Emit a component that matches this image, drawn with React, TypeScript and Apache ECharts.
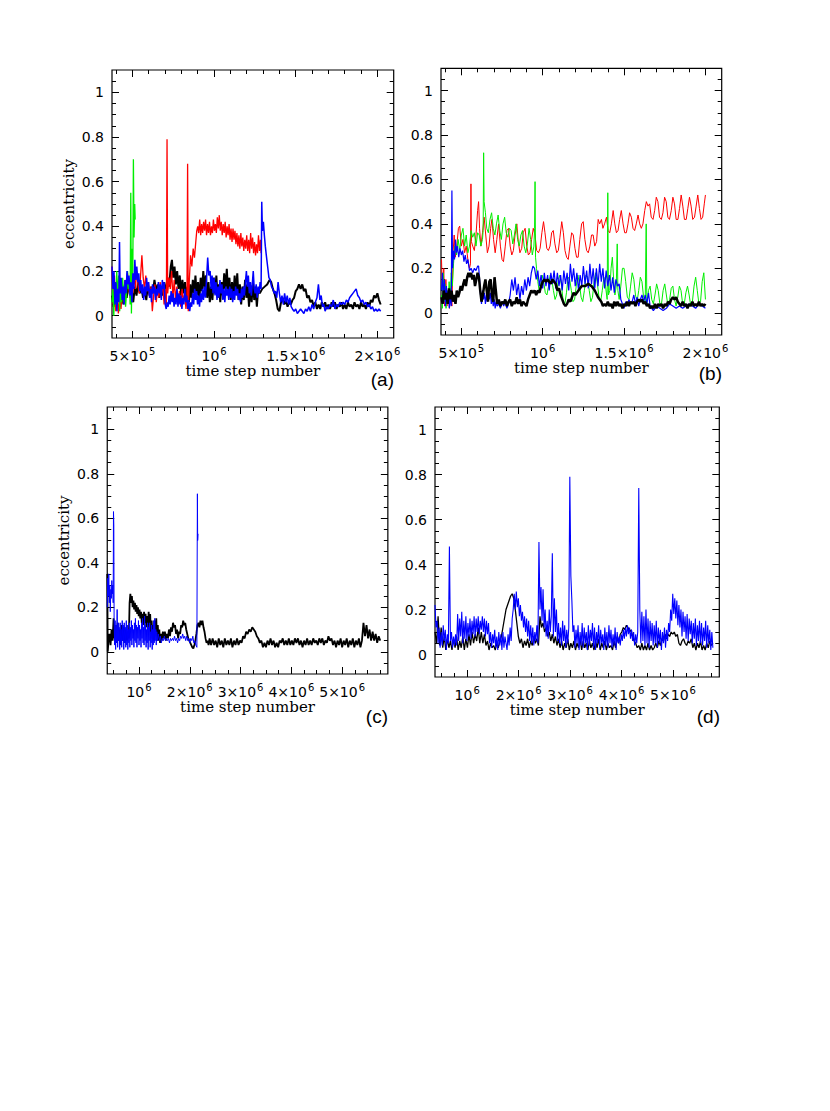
import React, { useEffect, useRef } from "react";
import * as echarts from "echarts";

// x values are in units of 1e5 time steps
const upperXMajor = [5, 10, 15, 20];
const upperXMinor = [4, 5, 6, 7, 8, 9, 10, 11, 12, 13, 14, 15, 16, 17, 18, 19, 20];
const upperXLabels: Record<string, string> = { "5": "{b|5×10}{s|5}", "10": "{b|10}{s|6}", "15": "{b|1.5×10}{s|6}", "20": "{b|2×10}{s|6}" };
const lowerXMajor = [10, 20, 30, 40, 50];
const lowerXMinor = [5, 7.5, 10, 12.5, 15, 17.5, 20, 22.5, 25, 27.5, 30, 32.5, 35, 37.5, 40, 42.5, 45, 47.5, 50, 52.5, 55, 57.5];
const lowerXLabels: Record<string, string> = { "10": "{b|10}{s|6}", "20": "{b|2×10}{s|6}", "30": "{b|3×10}{s|6}", "40": "{b|4×10}{s|6}", "50": "{b|5×10}{s|6}" };
const yMajor = [0, 0.2, 0.4, 0.6, 0.8, 1];
const yMinor = [-0.05, 0, 0.05, 0.1, 0.15, 0.2, 0.25, 0.3, 0.35, 0.4, 0.45, 0.5, 0.55, 0.6, 0.65, 0.7, 0.75, 0.8, 0.85, 0.9, 0.95, 1, 1.05];

// ---------- panel (a) ----------
const aBlack = [[3.75,0.09],[3.85,0.04],[3.95,0.12],[4.05,0.06],[4.15,0.14],[4.25,0.07],[4.35,0.11],[4.45,0.05],[4.55,0.13],[4.65,0.08],[4.75,0.15],[4.85,0.09],[4.95,0.12],[5.05,0.06],[5.15,0.13],[5.25,0.09],[5.35,0.15],[5.45,0.1],[5.55,0.13],[5.65,0.08],[5.75,0.12],[5.85,0.07],[5.95,0.14],[6.05,0.09],[6.15,0.13],[6.25,0.1],[6.35,0.16],[6.45,0.11],[6.55,0.14],[6.65,0.08],[6.75,0.13],[6.85,0.09],[6.95,0.15],[7.05,0.1],[7.15,0.17],[7.25,0.13],[7.35,0.22],[7.42,0.25],[7.5,0.17],[7.58,0.22],[7.66,0.14],[7.74,0.2],[7.82,0.12],[7.9,0.18],[7.98,0.09],[8.06,0.16],[8.14,0.1],[8.22,0.15],[8.3,0.07],[8.38,0.13],[8.46,0.06],[8.54,0.14],[8.62,0.08],[8.7,0.16],[8.78,0.1],[8.86,0.18],[8.94,0.09],[9.02,0.15],[9.1,0.07],[9.18,0.17],[9.26,0.11],[9.34,0.2],[9.42,0.12],[9.5,0.18],[9.58,0.08],[9.66,0.15],[9.74,0.06],[9.82,0.13],[9.9,0.07],[9.98,0.17],[10.06,0.1],[10.14,0.18],[10.22,0.08],[10.3,0.14],[10.38,0.06],[10.46,0.15],[10.54,0.09],[10.62,0.19],[10.7,0.12],[10.78,0.21],[10.86,0.1],[10.94,0.17],[11.02,0.07],[11.1,0.15],[11.18,0.08],[11.26,0.18],[11.34,0.1],[11.42,0.19],[11.5,0.07],[11.58,0.14],[11.66,0.05],[11.74,0.13],[11.82,0.07],[11.9,0.16],[11.98,0.08],[12.06,0.14],[12.14,0.04],[12.22,0.13],[12.3,0.06],[12.38,0.15],[12.46,0.07],[12.54,0.13],[12.62,0.04],[12.7,0.12],[12.8,0.1],[12.95,0.12],[13.1,0.13],[13.25,0.14],[13.4,0.16],[13.5,0.15],[13.6,0.12],[13.7,0.1],[13.8,0.07],[13.9,0.03],[14.0,0.02],[14.1,0.06],[14.2,0.08],[14.3,0.05],[14.4,0.07],[14.5,0.04],[14.6,0.06],[14.7,0.05],[14.8,0.07],[14.9,0.08],[15.0,0.11],[15.1,0.12],[15.2,0.14],[15.3,0.12],[15.4,0.14],[15.5,0.11],[15.6,0.12],[15.7,0.08],[15.8,0.09],[15.9,0.06],[16.0,0.07],[16.1,0.04],[16.2,0.06],[16.3,0.03],[16.4,0.05],[16.5,0.03],[16.6,0.06],[16.7,0.04],[16.8,0.06],[16.9,0.03],[17.0,0.05],[17.1,0.03],[17.2,0.06],[17.3,0.04],[17.4,0.06],[17.5,0.03],[17.6,0.05],[17.7,0.04],[17.8,0.06],[17.9,0.03],[18.0,0.05],[18.1,0.03],[18.2,0.06],[18.3,0.04],[18.4,0.05],[18.5,0.03],[18.6,0.06],[18.7,0.04],[18.8,0.05],[18.9,0.03],[19.0,0.06],[19.1,0.04],[19.2,0.05],[19.3,0.03],[19.4,0.06],[19.5,0.04],[19.6,0.07],[19.7,0.06],[19.8,0.09],[19.9,0.08],[20.0,0.1],[20.1,0.07],[20.2,0.05]];
const aRed = [[3.75,0.22],[3.82,0.05],[3.9,0.18],[3.98,0.02],[4.06,0.1],[4.14,0.01],[4.22,0.08],[4.3,0.03],[4.38,0.12],[4.46,0.06],[4.54,0.16],[4.62,0.1],[4.7,0.19],[4.78,0.12],[4.86,0.08],[4.94,0.15],[5.02,0.1],[5.1,0.18],[5.18,0.12],[5.26,0.2],[5.34,0.14],[5.42,0.1],[5.5,0.18],[5.58,0.27],[5.66,0.17],[5.74,0.12],[5.82,0.18],[5.9,0.11],[5.98,0.15],[6.06,0.08],[6.14,0.13],[6.22,0.02],[6.3,0.09],[6.38,0.14],[6.46,0.06],[6.54,0.12],[6.62,0.08],[6.7,0.15],[6.78,0.1],[6.86,0.14],[6.94,0.05],[7.02,0.12],[7.08,0.05],[7.12,0.79],[7.16,0.1],[7.24,0.17],[7.32,0.12],[7.4,0.2],[7.48,0.08],[7.56,0.16],[7.64,0.07],[7.72,0.13],[7.8,0.05],[7.88,0.11],[7.96,0.04],[8.04,0.12],[8.12,0.06],[8.2,0.1],[8.28,0.03],[8.34,0.08],[8.38,0.68],[8.42,0.02],[8.48,0.15],[8.56,0.27],[8.64,0.22],[8.72,0.3],[8.8,0.26],[8.88,0.33],[8.94,0.38],[9.0,0.4],[9.06,0.37],[9.12,0.43],[9.18,0.36],[9.24,0.41],[9.3,0.37],[9.36,0.42],[9.42,0.38],[9.48,0.43],[9.54,0.36],[9.6,0.41],[9.66,0.37],[9.72,0.42],[9.78,0.36],[9.84,0.4],[9.9,0.37],[9.96,0.43],[10.02,0.38],[10.08,0.41],[10.14,0.37],[10.2,0.44],[10.26,0.39],[10.32,0.45],[10.38,0.38],[10.44,0.42],[10.5,0.36],[10.56,0.41],[10.62,0.37],[10.68,0.42],[10.74,0.35],[10.8,0.4],[10.86,0.36],[10.92,0.41],[10.98,0.34],[11.04,0.39],[11.1,0.33],[11.16,0.39],[11.22,0.34],[11.28,0.38],[11.34,0.32],[11.4,0.37],[11.46,0.31],[11.52,0.36],[11.58,0.3],[11.64,0.37],[11.7,0.31],[11.76,0.35],[11.82,0.29],[11.88,0.34],[11.94,0.3],[12.0,0.36],[12.06,0.29],[12.12,0.34],[12.18,0.28],[12.24,0.37],[12.3,0.3],[12.36,0.35],[12.42,0.28],[12.48,0.33],[12.54,0.27],[12.6,0.32],[12.66,0.28],[12.72,0.36],[12.78,0.29],[12.84,0.34],[12.88,0.28]];
const aGreen = [[3.75,0.06],[3.8,0.12],[3.86,0.0],[3.92,0.15],[3.98,0.05],[4.04,0.2],[4.1,0.08],[4.16,0.18],[4.22,0.02],[4.28,0.12],[4.34,0.06],[4.4,0.17],[4.46,0.09],[4.52,0.14],[4.58,0.04],[4.64,0.1],[4.7,0.2],[4.76,0.12],[4.82,0.17],[4.86,0.05],[4.9,0.55],[4.94,0.01],[4.98,0.3],[5.02,0.12],[5.06,0.7],[5.1,0.35],[5.14,0.5],[5.17,0.43]];
const aBlue = [[3.75,0.22],[3.81,0.12],[3.87,0.2],[3.93,0.05],[3.99,0.15],[4.05,0.02],[4.11,0.12],[4.17,0.06],[4.21,0.33],[4.25,0.1],[4.31,0.17],[4.37,0.07],[4.43,0.13],[4.49,0.05],[4.55,0.16],[4.61,0.1],[4.67,0.2],[4.73,0.14],[4.79,0.18],[4.85,0.09],[4.91,0.15],[4.97,0.06],[5.03,0.19],[5.09,0.12],[5.15,0.25],[5.21,0.16],[5.27,0.22],[5.33,0.15],[5.39,0.19],[5.45,0.11],[5.51,0.16],[5.57,0.1],[5.63,0.14],[5.69,0.07],[5.75,0.13],[5.81,0.09],[5.87,0.17],[5.93,0.11],[5.99,0.15],[6.05,0.08],[6.11,0.12],[6.17,0.06],[6.23,0.14],[6.29,0.1],[6.35,0.13],[6.41,0.07],[6.47,0.12],[6.53,0.09],[6.59,0.15],[6.65,0.1],[6.71,0.14],[6.77,0.07],[6.83,0.16],[6.89,0.12],[6.95,0.15],[7.01,0.05],[7.07,0.03],[7.13,0.06],[7.19,0.04],[7.25,0.09],[7.31,0.05],[7.37,0.11],[7.43,0.06],[7.49,0.1],[7.55,0.04],[7.61,0.08],[7.67,0.05],[7.73,0.12],[7.79,0.04],[7.85,0.1],[7.91,0.05],[7.97,0.09],[8.03,0.03],[8.09,0.08],[8.15,0.05],[8.21,0.12],[8.27,0.06],[8.33,0.09],[8.39,0.03],[8.45,0.07],[8.51,0.02],[8.57,0.06],[8.63,0.04],[8.69,0.1],[8.75,0.05],[8.81,0.12],[8.87,0.07],[8.93,0.11],[8.99,0.05],[9.05,0.09],[9.11,0.04],[9.17,0.1],[9.23,0.06],[9.29,0.12],[9.35,0.07],[9.41,0.13],[9.47,0.08],[9.53,0.15],[9.61,0.26],[9.68,0.18],[9.76,0.2],[9.82,0.12],[9.88,0.18],[9.94,0.1],[10.0,0.17],[10.06,0.09],[10.12,0.15],[10.18,0.07],[10.24,0.13],[10.3,0.08],[10.36,0.16],[10.42,0.1],[10.48,0.14],[10.54,0.07],[10.6,0.12],[10.66,0.06],[10.72,0.13],[10.78,0.09],[10.84,0.12],[10.9,0.07],[10.96,0.13],[11.02,0.08],[11.08,0.12],[11.14,0.06],[11.2,0.11],[11.26,0.07],[11.32,0.13],[11.38,0.09],[11.44,0.12],[11.5,0.07],[11.56,0.1],[11.62,0.06],[11.68,0.12],[11.74,0.08],[11.8,0.13],[11.86,0.09],[11.92,0.15],[11.98,0.2],[12.04,0.13],[12.1,0.18],[12.16,0.1],[12.22,0.15],[12.28,0.09],[12.34,0.14],[12.4,0.2],[12.46,0.12],[12.52,0.1],[12.58,0.14],[12.64,0.08],[12.7,0.13],[12.76,0.1],[12.82,0.15],[12.88,0.12],[12.92,0.51],[12.96,0.38],[13.02,0.42],[13.08,0.36],[13.14,0.31],[13.2,0.27],[13.28,0.22],[13.36,0.17],[13.44,0.16],[13.52,0.13],[13.6,0.12],[13.68,0.1],[13.76,0.11],[13.84,0.08],[13.92,0.15],[14.0,0.1],[14.08,0.06],[14.16,0.09],[14.24,0.05],[14.32,0.1],[14.4,0.06],[14.48,0.09],[14.56,0.05],[14.64,0.08],[14.72,0.04],[14.8,0.03],[14.9,0.02],[15.0,0.03],[15.1,0.01],[15.2,0.02],[15.3,0.03],[15.4,0.02],[15.5,0.01],[15.6,0.03],[15.7,0.02],[15.8,0.04],[15.9,0.02],[16.0,0.05],[16.1,0.03],[16.2,0.06],[16.3,0.08],[16.39,0.14],[16.48,0.07],[16.56,0.09],[16.64,0.04],[16.72,0.05],[16.8,0.02],[16.9,0.04],[17.0,0.03],[17.1,0.05],[17.2,0.04],[17.3,0.07],[17.4,0.03],[17.5,0.05],[17.6,0.04],[17.7,0.06],[17.8,0.05],[17.9,0.06],[18.0,0.05],[18.1,0.07],[18.2,0.06],[18.3,0.08],[18.4,0.09],[18.5,0.1],[18.6,0.11],[18.7,0.12],[18.8,0.09],[18.9,0.08],[19.0,0.06],[19.1,0.07],[19.2,0.05],[19.3,0.06],[19.4,0.04],[19.5,0.05],[19.6,0.03],[19.7,0.04],[19.8,0.02],[19.9,0.03],[20.0,0.02],[20.1,0.03],[20.2,0.02]];

// ---------- panel (b) ----------
const bRed = [[3.78,0.24],[3.85,0.08],[3.92,0.2],[3.98,0.03],[4.05,0.15],[4.12,0.03],[4.2,0.1],[4.27,0.02],[4.35,0.08],[4.42,0.03],[4.5,0.28],[4.56,0.35],[4.63,0.25],[4.72,0.3],[4.82,0.38],[4.9,0.39],[5.0,0.3],[5.1,0.33],[5.2,0.27],[5.3,0.3],[5.4,0.24],[5.5,0.2],[5.56,0.22],[5.59,0.58],[5.62,0.32],[5.7,0.3],[5.8,0.28],[5.9,0.35],[6.0,0.46],[6.06,0.5],[6.12,0.38],[6.2,0.3],[6.3,0.36],[6.4,0.43],[6.5,0.35],[6.6,0.27],[6.7,0.3],[6.8,0.38],[6.88,0.42],[6.98,0.33],[7.08,0.27],[7.18,0.33],[7.29,0.4],[7.4,0.3],[7.5,0.24],[7.59,0.23],[7.7,0.3],[7.8,0.37],[7.9,0.38],[8.0,0.3],[8.1,0.26],[8.2,0.28],[8.3,0.35],[8.41,0.4],[8.5,0.32],[8.6,0.27],[8.71,0.29],[8.8,0.36],[8.92,0.38],[9.02,0.3],[9.12,0.26],[9.22,0.27],[9.32,0.33],[9.42,0.38],[9.53,0.35],[9.63,0.28],[9.74,0.27],[9.84,0.29],[9.95,0.36],[10.05,0.41],[10.14,0.36],[10.25,0.29],[10.35,0.28],[10.45,0.3],[10.55,0.36],[10.65,0.37],[10.75,0.31],[10.86,0.27],[10.96,0.28],[11.06,0.34],[11.17,0.41],[11.27,0.36],[11.37,0.28],[11.47,0.25],[11.57,0.24],[11.67,0.3],[11.78,0.36],[11.88,0.35],[11.98,0.29],[12.08,0.25],[12.18,0.25],[12.28,0.33],[12.39,0.4],[12.49,0.41],[12.59,0.33],[12.7,0.28],[12.8,0.27],[12.9,0.3],[13.0,0.35],[13.1,0.35],[13.2,0.3],[13.31,0.32],[13.41,0.42],[13.5,0.4],[13.61,0.42],[13.7,0.38],[13.8,0.4],[13.92,0.43],[14.02,0.37],[14.12,0.36],[14.22,0.4],[14.33,0.46],[14.43,0.4],[14.53,0.36],[14.63,0.37],[14.73,0.42],[14.83,0.46],[14.94,0.4],[15.04,0.36],[15.14,0.36],[15.24,0.4],[15.34,0.45],[15.45,0.43],[15.55,0.38],[15.65,0.37],[15.75,0.4],[15.86,0.44],[15.96,0.4],[16.06,0.38],[16.16,0.4],[16.27,0.46],[16.37,0.5],[16.47,0.48],[16.57,0.49],[16.67,0.43],[16.78,0.42],[16.88,0.46],[16.98,0.52],[17.08,0.5],[17.18,0.43],[17.29,0.42],[17.39,0.45],[17.49,0.52],[17.59,0.5],[17.69,0.43],[17.79,0.42],[17.9,0.46],[18.0,0.52],[18.1,0.49],[18.2,0.42],[18.31,0.42],[18.41,0.47],[18.51,0.53],[18.61,0.48],[18.71,0.42],[18.82,0.42],[18.92,0.47],[19.02,0.52],[19.12,0.48],[19.22,0.42],[19.33,0.43],[19.43,0.48],[19.53,0.53],[19.63,0.47],[19.73,0.42],[19.83,0.43],[19.93,0.49],[20.0,0.53]];
const bGreen = [[3.78,0.08],[3.83,0.02],[3.88,0.18],[3.94,0.05],[4.0,0.13],[4.06,0.02],[4.12,0.1],[4.18,0.04],[4.25,0.14],[4.32,0.06],[4.38,0.18],[4.45,0.12],[4.52,0.22],[4.6,0.3],[4.7,0.26],[4.8,0.33],[4.9,0.28],[5.0,0.35],[5.1,0.38],[5.2,0.3],[5.3,0.35],[5.4,0.27],[5.5,0.3],[5.6,0.37],[5.7,0.34],[5.8,0.36],[5.9,0.3],[6.0,0.36],[6.1,0.35],[6.2,0.3],[6.3,0.33],[6.34,0.37],[6.37,0.72],[6.4,0.5],[6.48,0.45],[6.56,0.38],[6.66,0.36],[6.76,0.42],[6.86,0.45],[6.96,0.38],[7.06,0.35],[7.16,0.4],[7.26,0.44],[7.36,0.37],[7.46,0.33],[7.56,0.4],[7.66,0.43],[7.76,0.36],[7.86,0.34],[7.96,0.38],[8.06,0.37],[8.16,0.31],[8.26,0.35],[8.36,0.4],[8.46,0.33],[8.56,0.3],[8.66,0.35],[8.76,0.37],[8.86,0.3],[8.96,0.27],[9.06,0.31],[9.16,0.38],[9.26,0.33],[9.36,0.26],[9.46,0.3],[9.5,0.38],[9.53,0.59],[9.56,0.25],[9.62,0.2],[9.7,0.14],[9.78,0.1],[9.86,0.12],[9.96,0.17],[10.06,0.14],[10.16,0.09],[10.26,0.08],[10.36,0.12],[10.46,0.17],[10.56,0.15],[10.66,0.1],[10.76,0.06],[10.86,0.08],[10.96,0.15],[11.06,0.17],[11.16,0.12],[11.26,0.05],[11.36,0.04],[11.46,0.09],[11.56,0.16],[11.66,0.15],[11.76,0.1],[11.86,0.05],[11.96,0.06],[12.06,0.12],[12.16,0.17],[12.26,0.13],[12.36,0.07],[12.46,0.05],[12.56,0.1],[12.66,0.17],[12.76,0.16],[12.86,0.1],[12.96,0.05],[13.06,0.07],[13.16,0.14],[13.26,0.18],[13.36,0.13],[13.46,0.07],[13.56,0.05],[13.66,0.1],[13.76,0.16],[13.86,0.12],[13.96,0.06],[14.0,0.54],[14.04,0.08],[14.12,0.1],[14.2,0.2],[14.28,0.25],[14.36,0.15],[14.44,0.08],[14.52,0.12],[14.58,0.31],[14.62,0.1],[14.7,0.06],[14.8,0.12],[14.9,0.2],[15.0,0.2],[15.1,0.14],[15.2,0.07],[15.3,0.06],[15.4,0.12],[15.5,0.18],[15.6,0.15],[15.7,0.08],[15.8,0.05],[15.9,0.1],[16.0,0.16],[16.1,0.14],[16.2,0.07],[16.3,0.05],[16.36,0.4],[16.4,0.04],[16.5,0.1],[16.6,0.12],[16.7,0.06],[16.8,0.04],[16.9,0.08],[17.0,0.13],[17.1,0.1],[17.2,0.04],[17.3,0.04],[17.4,0.1],[17.5,0.13],[17.6,0.08],[17.7,0.03],[17.8,0.06],[17.9,0.11],[18.0,0.12],[18.1,0.06],[18.2,0.03],[18.3,0.07],[18.4,0.12],[18.5,0.1],[18.6,0.04],[18.7,0.04],[18.8,0.09],[18.9,0.12],[19.0,0.08],[19.1,0.03],[19.2,0.05],[19.3,0.12],[19.4,0.16],[19.5,0.1],[19.6,0.04],[19.7,0.05],[19.8,0.14],[19.9,0.18],[20.0,0.06]];
const bBlue = [[3.78,0.1],[3.84,0.18],[3.9,0.06],[3.96,0.15],[4.02,0.03],[4.08,0.12],[4.14,0.05],[4.2,0.1],[4.26,0.02],[4.32,0.08],[4.38,0.03],[4.42,0.55],[4.46,0.2],[4.52,0.28],[4.58,0.24],[4.64,0.33],[4.7,0.27],[4.76,0.3],[4.84,0.25],[4.92,0.29],[5.0,0.26],[5.08,0.28],[5.16,0.23],[5.24,0.26],[5.32,0.22],[5.4,0.24],[5.5,0.19],[5.6,0.2],[5.7,0.18],[5.8,0.2],[5.9,0.19],[6.0,0.21],[6.06,0.21],[6.12,0.15],[6.18,0.08],[6.24,0.04],[6.3,0.1],[6.36,0.06],[6.42,0.09],[6.48,0.04],[6.54,0.08],[6.6,0.05],[6.66,0.1],[6.72,0.06],[6.78,0.09],[6.84,0.04],[6.9,0.07],[6.96,0.03],[7.02,0.06],[7.08,0.02],[7.14,0.05],[7.2,0.03],[7.3,0.04],[7.4,0.02],[7.5,0.05],[7.6,0.03],[7.7,0.05],[7.8,0.02],[7.9,0.04],[8.0,0.08],[8.1,0.15],[8.2,0.1],[8.3,0.16],[8.4,0.08],[8.5,0.13],[8.6,0.06],[8.7,0.12],[8.8,0.08],[8.9,0.15],[9.0,0.1],[9.1,0.16],[9.2,0.12],[9.3,0.18],[9.4,0.21],[9.5,0.2],[9.6,0.15],[9.7,0.19],[9.8,0.12],[9.9,0.17],[10.0,0.11],[10.1,0.18],[10.2,0.12],[10.3,0.17],[10.4,0.1],[10.5,0.18],[10.6,0.13],[10.7,0.19],[10.8,0.11],[10.9,0.18],[11.0,0.12],[11.1,0.17],[11.2,0.1],[11.3,0.19],[11.4,0.13],[11.5,0.18],[11.6,0.1],[11.7,0.22],[11.8,0.14],[11.9,0.2],[12.0,0.12],[12.1,0.18],[12.2,0.1],[12.3,0.17],[12.4,0.12],[12.5,0.21],[12.6,0.13],[12.7,0.19],[12.8,0.11],[12.9,0.22],[13.0,0.13],[13.1,0.2],[13.2,0.11],[13.3,0.2],[13.4,0.12],[13.5,0.22],[13.6,0.14],[13.7,0.2],[13.8,0.11],[13.9,0.19],[14.0,0.12],[14.1,0.17],[14.2,0.1],[14.3,0.16],[14.4,0.09],[14.5,0.15],[14.6,0.12],[14.7,0.13],[14.8,0.06],[14.9,0.04],[15.0,0.02],[15.1,0.05],[15.2,0.03],[15.3,0.06],[15.4,0.04],[15.5,0.05],[15.6,0.08],[15.7,0.04],[15.8,0.07],[15.9,0.03],[16.0,0.06],[16.1,0.08],[16.2,0.05],[16.3,0.08],[16.4,0.04],[16.5,0.09],[16.6,0.03],[16.7,0.02],[16.8,0.01],[16.9,0.02],[17.0,0.03],[17.2,0.02],[17.4,0.01],[17.6,0.02],[17.8,0.04],[18.0,0.03],[18.2,0.02],[18.4,0.03],[18.6,0.02],[18.8,0.03],[19.0,0.04],[19.2,0.03],[19.4,0.02],[19.6,0.04],[19.8,0.03],[20.0,0.02]];
const bBlack = [[3.78,0.07],[3.85,0.04],[3.92,0.1],[4.0,0.06],[4.08,0.09],[4.16,0.04],[4.24,0.11],[4.32,0.06],[4.4,0.1],[4.48,0.05],[4.56,0.08],[4.64,0.04],[4.72,0.1],[4.8,0.07],[4.88,0.09],[4.96,0.12],[5.04,0.1],[5.12,0.13],[5.2,0.15],[5.28,0.12],[5.36,0.16],[5.44,0.18],[5.52,0.16],[5.6,0.18],[5.68,0.15],[5.76,0.17],[5.84,0.12],[5.92,0.15],[6.0,0.18],[6.08,0.16],[6.16,0.1],[6.24,0.05],[6.32,0.08],[6.4,0.12],[6.48,0.15],[6.56,0.1],[6.64,0.05],[6.72,0.14],[6.8,0.15],[6.88,0.08],[6.96,0.05],[7.04,0.16],[7.12,0.1],[7.2,0.04],[7.3,0.06],[7.4,0.03],[7.5,0.05],[7.6,0.04],[7.7,0.06],[7.8,0.03],[7.9,0.05],[8.0,0.06],[8.1,0.03],[8.2,0.05],[8.3,0.04],[8.4,0.07],[8.5,0.04],[8.6,0.06],[8.7,0.03],[8.8,0.05],[8.9,0.04],[9.0,0.03],[9.1,0.06],[9.2,0.08],[9.3,0.1],[9.4,0.09],[9.5,0.1],[9.6,0.08],[9.7,0.1],[9.8,0.09],[9.9,0.12],[10.0,0.14],[10.1,0.15],[10.2,0.14],[10.3,0.15],[10.4,0.14],[10.5,0.13],[10.6,0.15],[10.7,0.14],[10.8,0.13],[10.9,0.1],[11.0,0.11],[11.1,0.08],[11.2,0.06],[11.3,0.04],[11.4,0.03],[11.5,0.04],[11.6,0.06],[11.7,0.05],[11.8,0.07],[11.9,0.09],[12.0,0.08],[12.2,0.1],[12.4,0.12],[12.6,0.12],[12.8,0.13],[13.0,0.12],[13.2,0.1],[13.4,0.07],[13.6,0.05],[13.7,0.03],[13.8,0.04],[13.9,0.03],[14.0,0.05],[14.1,0.03],[14.2,0.04],[14.3,0.02],[14.4,0.05],[14.5,0.03],[14.6,0.05],[14.7,0.03],[14.8,0.04],[14.9,0.02],[15.0,0.04],[15.1,0.03],[15.2,0.05],[15.3,0.03],[15.4,0.05],[15.5,0.04],[15.6,0.05],[15.7,0.03],[15.8,0.05],[15.9,0.06],[16.0,0.05],[16.1,0.06],[16.2,0.04],[16.3,0.05],[16.4,0.03],[16.5,0.04],[16.6,0.02],[16.7,0.03],[16.8,0.02],[16.9,0.04],[17.0,0.02],[17.1,0.04],[17.2,0.03],[17.3,0.04],[17.4,0.02],[17.5,0.04],[17.6,0.03],[17.7,0.05],[17.8,0.04],[17.9,0.06],[18.0,0.07],[18.1,0.06],[18.2,0.07],[18.3,0.05],[18.4,0.04],[18.5,0.03],[18.6,0.05],[18.7,0.03],[18.8,0.04],[18.9,0.02],[19.0,0.04],[19.1,0.03],[19.2,0.05],[19.3,0.03],[19.4,0.04],[19.5,0.03],[19.6,0.05],[19.7,0.03],[19.8,0.04],[19.9,0.03],[20.0,0.04]];

// ---------- panel (c) ----------
const cBlackHead = [[3.75,0.35],[3.8,0.35],[3.85,0.0],[4.0,0.05],[4.2,0.08],[4.4,0.03],[4.6,0.1],[4.8,0.05],[5.0,0.15],[5.2,0.06],[5.4,0.12],[5.6,0.04],[5.8,0.13],[6.0,0.05],[6.2,0.1],[6.4,0.03],[6.6,0.12],[6.8,0.05],[7.0,0.11],[7.2,0.04],[7.4,0.1],[7.6,0.05],[7.8,0.09],[8.0,0.06],[8.15,0.22],[8.3,0.26],[8.45,0.22],[8.6,0.25],[8.75,0.2],[8.9,0.23],[9.05,0.19],[9.2,0.22],[9.35,0.18],[9.5,0.21],[9.65,0.17],[9.8,0.2],[9.95,0.16],[10.1,0.19],[10.25,0.15],[10.4,0.18],[10.55,0.13],[10.7,0.17],[10.85,0.12],[11.0,0.18],[11.15,0.13],[11.3,0.17],[11.45,0.11],[11.6,0.16],[11.75,0.1],[11.9,0.18],[12.05,0.12],[12.2,0.17],[12.35,0.08],[12.5,0.14],[12.65,0.06],[12.8,0.12],[12.95,0.05],[13.1,0.14],[13.25,0.07],[13.4,0.15],[13.55,0.05],[13.7,0.12],[13.85,0.05],[14.0,0.1],[14.15,0.04],[14.3,0.08],[14.5,0.05],[14.7,0.09],[14.9,0.06],[15.1,0.09],[15.3,0.05],[15.5,0.08],[15.7,0.06],[15.9,0.1],[16.1,0.07],[16.3,0.11],[16.5,0.09],[16.7,0.13],[16.9,0.11],[17.1,0.12],[17.3,0.08],[17.5,0.1],[17.7,0.06],[17.9,0.09],[18.1,0.08],[18.3,0.12],[18.5,0.11],[18.7,0.14],[18.9,0.12],[19.1,0.13],[19.3,0.1],[19.5,0.08],[19.7,0.06],[19.9,0.05],[20.1,0.04],[20.3,0.03],[20.5,0.02],[20.7,0.015],[20.9,0.03],[21.1,0.05],[21.3,0.08],[21.5,0.12],[21.7,0.13],[21.9,0.11],[22.1,0.14],[22.3,0.12],[22.5,0.14],[22.7,0.11],[22.9,0.09],[23.1,0.06],[23.3,0.04],[23.5,0.05],[23.7,0.03],[23.9,0.06]];
const cBlackTailStart = 24.2;
const cBlackTailStep = 0.3;
const cBlackTailY = [0.03,0.06,0.03,0.05,0.02,0.06,0.03,0.05,0.02,0.06,0.03,0.05,0.03,0.06,0.02,0.05,0.03,0.06,0.03,0.05,0.04,0.07,0.06,0.09,0.08,0.1,0.09,0.11,0.1,0.09,0.07,0.06,0.04,0.05,0.02,0.04,0.02,0.05,0.03,0.06,0.03,0.05,0.02,0.04,0.02,0.05,0.04,0.06,0.03,0.05,0.03,0.06,0.03,0.05,0.03,0.06,0.04,0.06,0.03,0.05,0.02,0.05,0.03,0.06,0.03,0.05,0.03,0.06,0.04,0.05,0.03,0.06,0.04,0.06,0.03,0.05,0.04,0.07,0.05,0.06,0.03,0.05,0.02,0.05,0.03,0.06,0.02,0.05,0.03,0.06,0.02,0.05,0.03,0.06,0.02,0.05,0.03,0.06,0.02,0.05,0.13,0.07,0.12,0.06,0.1,0.05,0.09,0.05,0.08,0.04,0.07,0.05];
const cBlue = [[3.75,0.2],[3.85,0.33],[3.95,0.25],[4.05,0.35],[4.15,0.22],[4.25,0.3],[4.35,0.18],[4.45,0.28],[4.55,0.24],[4.65,0.32],[4.75,0.26],[4.85,0.3],[4.92,0.22],[4.98,0.63],[5.04,0.57],[5.1,0.15],[5.2,0.03],[5.3,0.14],[5.4,0.01],[5.5,0.12],[5.6,0.04],[5.7,0.19],[5.8,0.02],[5.9,0.13],[6.0,0.05],[6.1,0.11],[6.2,0.01],[6.3,0.13],[6.4,0.03],[6.5,0.1],[6.6,0.02],[6.7,0.14],[6.8,0.05],[6.9,0.12],[7.0,0.01],[7.1,0.13],[7.2,0.04],[7.3,0.11],[7.4,0.02],[7.5,0.14],[7.6,0.03],[7.7,0.12],[7.8,0.01],[7.9,0.1],[8.0,0.04],[8.1,0.13],[8.2,0.02],[8.3,0.11],[8.4,0.05],[8.5,0.14],[8.6,0.03],[8.7,0.12],[8.8,0.06],[8.9,0.1],[9.0,0.02],[9.1,0.13],[9.2,0.05],[9.3,0.15],[9.4,0.04],[9.5,0.12],[9.6,0.02],[9.7,0.11],[9.8,0.06],[9.9,0.14],[10.0,0.03],[10.1,0.12],[10.2,0.05],[10.3,0.1],[10.4,0.02],[10.5,0.13],[10.6,0.06],[10.7,0.15],[10.8,0.04],[10.9,0.11],[11.0,0.03],[11.1,0.16],[11.2,0.05],[11.3,0.12],[11.4,0.02],[11.5,0.1],[11.6,0.04],[11.7,0.13],[11.8,0.01],[11.9,0.11],[12.0,0.05],[12.1,0.13],[12.2,0.02],[12.3,0.09],[12.4,0.04],[12.5,0.12],[12.6,0.01],[12.7,0.1],[12.8,0.03],[12.9,0.14],[13.0,0.04],[13.1,0.15],[13.2,0.05],[13.3,0.1],[13.4,0.03],[13.5,0.09],[13.6,0.05],[13.8,0.08],[14.0,0.05],[14.2,0.07],[14.4,0.04],[14.6,0.06],[14.8,0.05],[15.0,0.07],[15.2,0.05],[15.4,0.06],[15.6,0.05],[15.8,0.06],[16.0,0.04],[16.2,0.06],[16.4,0.05],[16.6,0.06],[16.8,0.05],[17.0,0.07],[17.2,0.05],[17.4,0.06],[17.6,0.04],[17.8,0.06],[18.0,0.05],[18.2,0.07],[18.4,0.06],[18.6,0.08],[18.8,0.06],[19.0,0.07],[19.2,0.05],[19.4,0.07],[19.6,0.05],[19.8,0.06],[20.0,0.04],[20.2,0.06],[20.4,0.05],[20.6,0.07],[20.8,0.04],[21.0,0.05],[21.2,0.03],[21.4,0.02],[21.5,0.71],[21.55,0.5],[21.62,0.53]];

// ---------- panel (d) ----------
const dBlueStart = 3.75;
const dBlueStep = 0.2;
const dBlueY = [
  0.22,0.12,0.15,0.05,0.12,0.03,0.1,0.04,0.13,0.06,
  0.11,0.02,0.09,0.05,0.48,0.06,0.1,0.03,0.08,0.04,
  0.09,0.04,0.18,0.06,0.16,0.08,0.19,0.05,0.15,0.07,
  0.17,0.06,0.14,0.08,0.16,0.07,0.15,0.09,0.17,0.08,
  0.16,0.1,0.17,0.09,0.15,0.11,0.17,0.1,0.16,0.08,
  0.15,0.09,0.14,0.05,0.1,0.03,0.09,0.05,0.11,0.03,
  0.08,0.02,0.1,0.04,0.09,0.02,0.1,0.03,0.08,0.05,
  0.02,0.09,0.04,0.12,0.06,0.16,0.2,0.27,0.2,0.28,
  0.21,0.25,0.17,0.22,0.15,0.19,0.12,0.17,0.1,0.16,
  0.08,0.15,0.06,0.13,0.05,0.12,0.04,0.1,0.06,0.13,
  0.05,0.5,0.2,0.3,0.15,0.29,0.12,0.2,0.08,0.15,
  0.07,0.2,0.1,0.17,0.45,0.08,0.25,0.1,0.2,0.06,
  0.14,0.05,0.12,0.04,0.15,0.06,0.13,0.03,0.11,0.05,
  0.12,0.79,0.35,0.24,0.1,0.13,0.03,0.11,0.05,0.13,
  0.02,0.1,0.04,0.14,0.03,0.12,0.05,0.1,0.02,0.13,
  0.04,0.11,0.06,0.14,0.03,0.12,0.02,0.1,0.05,0.13,
  0.03,0.11,0.05,0.09,0.02,0.12,0.04,0.1,0.03,0.13,
  0.05,0.11,0.03,0.09,0.04,0.12,0.02,0.1,0.05,0.08,
  0.04,0.09,0.06,0.11,0.07,0.12,0.08,0.13,0.09,0.12,
  0.07,0.11,0.06,0.1,0.04,0.09,0.05,0.1,0.74,0.2,
  0.05,0.19,0.06,0.17,0.04,0.2,0.05,0.16,0.03,0.15,
  0.06,0.14,0.04,0.13,0.05,0.15,0.03,0.12,0.05,0.11,
  0.02,0.1,0.05,0.12,0.03,0.11,0.06,0.14,0.1,0.2,
  0.15,0.27,0.18,0.25,0.16,0.24,0.13,0.22,0.12,0.2,
  0.08,0.19,0.1,0.17,0.07,0.18,0.06,0.16,0.09,0.15,
  0.05,0.14,0.07,0.16,0.04,0.13,0.06,0.15,0.05,0.14,
  0.04,0.12,0.06,0.15,0.03,0.13,0.05,0.11,0.02,0.1,
  0.03
];
const dBlackStart = 3.75;
const dBlackStep = 0.3;
const dBlackY = [
  0.1,0.05,0.17,0.04,0.12,0.03,0.08,0.02,0.07,0.03,
  0.06,0.02,0.07,0.03,0.08,0.02,0.06,0.03,0.08,0.02,
  0.07,0.03,0.09,0.04,0.1,0.05,0.09,0.06,0.12,0.05,
  0.1,0.05,0.09,0.04,0.06,0.02,0.05,0.03,0.04,0.02,
  0.05,0.03,0.06,0.08,0.12,0.16,0.2,0.22,0.24,0.26,
  0.27,0.25,0.2,0.14,0.08,0.05,0.07,0.03,0.06,0.04,
  0.07,0.03,0.06,0.04,0.08,0.05,0.07,0.04,0.17,0.12,
  0.14,0.1,0.12,0.08,0.1,0.06,0.09,0.05,0.08,0.04,
  0.07,0.03,0.06,0.02,0.05,0.03,0.07,0.02,0.05,0.03,
  0.06,0.02,0.05,0.03,0.07,0.02,0.06,0.03,0.05,0.02,
  0.06,0.03,0.05,0.02,0.06,0.03,0.07,0.02,0.05,0.03,
  0.06,0.02,0.05,0.03,0.04,0.02,0.06,0.03,0.08,0.05,
  0.09,0.1,0.12,0.11,0.13,0.12,0.1,0.11,0.08,0.06,
  0.05,0.03,0.04,0.02,0.05,0.02,0.04,0.02,0.05,0.02,
  0.04,0.02,0.03,0.05,0.03,0.06,0.04,0.07,0.06,0.09,
  0.07,0.09,0.08,0.1,0.09,0.1,0.08,0.09,0.05,0.04,
  0.06,0.07,0.05,0.04,0.06,0.05,0.07,0.03,0.05,0.02,
  0.05,0.03,0.06,0.02,0.04,0.02,0.05,0.03,0.06,0.04,
  0.05
];

const toPairs = (start: number, step: number, ys: number[]) =>
  ys.map((y, i) => [Math.round((start + i * step) * 1000) / 1000, y]);

const FONT_NUM = "DejaVu Sans";
const FONT_TXT = "DejaVu Serif";

function axesFor(gi: number, xMin: number, xMax: number, xMajor: number[], xMinor: number[], xLabels: Record<string, string>, withYName: boolean) {
  const ts = { color: "#000", width: 1 };
  const base = { type: "value", gridIndex: gi, splitLine: { show: false }, axisLine: { show: false, onZero: false } };
  const xBase = { ...base, min: xMin, max: xMax };
  const yBase = { ...base, min: -0.1, max: 1.1 };
  const xs = [
    {
      ...xBase, position: "bottom",
      axisTick: { show: true, inside: true, length: 7, customValues: xMajor, lineStyle: ts },
      axisLabel: {
        show: true, customValues: xMajor, formatter: (v: number) => xLabels[String(v)] || "", margin: 8,
        rich: {
          b: { color: "#000", fontSize: 14, fontFamily: FONT_NUM },
          s: { color: "#000", fontSize: 10, fontFamily: FONT_NUM, padding: [0, 0, 9, 1] },
        },
      },
      name: "time step number", nameLocation: "middle", nameGap: 23,
      nameTextStyle: { color: "#000", fontSize: 15, fontFamily: FONT_TXT },
    },
    { ...xBase, position: "bottom", axisTick: { show: true, inside: true, length: 4, customValues: xMinor, lineStyle: ts }, axisLabel: { show: false } },
    { ...xBase, position: "top", axisTick: { show: true, inside: true, length: 7, customValues: xMajor, lineStyle: ts }, axisLabel: { show: false } },
    { ...xBase, position: "top", axisTick: { show: true, inside: true, length: 4, customValues: xMinor, lineStyle: ts }, axisLabel: { show: false } },
  ];
  const ys = [
    {
      ...yBase, position: "left",
      axisTick: { show: true, inside: true, length: 7, customValues: yMajor, lineStyle: ts },
      axisLabel: { show: true, customValues: yMajor, formatter: (v: number) => String(v), margin: 8, color: "#000", fontSize: 14, fontFamily: FONT_NUM },
      ...(withYName ? { name: "eccentricity", nameLocation: "middle", nameGap: 36, nameTextStyle: { color: "#000", fontSize: 15, fontFamily: FONT_TXT } } : {}),
    },
    { ...yBase, position: "left", axisTick: { show: true, inside: true, length: 4, customValues: yMinor, lineStyle: ts }, axisLabel: { show: false } },
    { ...yBase, position: "right", axisTick: { show: true, inside: true, length: 7, customValues: yMajor, lineStyle: ts }, axisLabel: { show: false } },
    { ...yBase, position: "right", axisTick: { show: true, inside: true, length: 4, customValues: yMinor, lineStyle: ts }, axisLabel: { show: false } },
  ];
  return { xs, ys };
}

function line(gi: number, data: number[][], color: string, width: number) {
  return {
    type: "line", xAxisIndex: gi * 4, yAxisIndex: gi * 4, data, showSymbol: false, symbol: "none",
    lineStyle: { color, width }, silent: true, clip: true,
  };
}

export default function App() {
  const ref = useRef<HTMLDivElement>(null);
  useEffect(() => {
    if (!ref.current) return;
    const chart = echarts.init(ref.current, undefined, { renderer: "svg" });
    const grids = [
      { left: 112, top: 70, width: 281.7, height: 268 },
      { left: 441, top: 68.3, width: 280.7, height: 266.7 },
      { left: 107.25, top: 407, width: 280.6, height: 267 },
      { left: 435, top: 407, width: 284.3, height: 270 },
    ].map((g) => ({ ...g, show: true, borderColor: "#000", borderWidth: 1.2, backgroundColor: "transparent", containLabel: false }));

    const A = axesFor(0, 3.75, 21, upperXMajor, upperXMinor, upperXLabels, true);
    const B = axesFor(1, 3.75, 21, upperXMajor, upperXMinor, upperXLabels, false);
    const C = axesFor(2, 3.75, 59, lowerXMajor, lowerXMinor, lowerXLabels, true);
    const D = axesFor(3, 3.75, 59, lowerXMajor, lowerXMinor, lowerXLabels, false);

    const cBlack = [...cBlackHead, ...toPairs(cBlackTailStart, cBlackTailStep, cBlackTailY)];
    const dBlue = toPairs(dBlueStart, dBlueStep, dBlueY);
    const dBlack = toPairs(dBlackStart, dBlackStep, dBlackY);

    const RED = "#ff0000", GREEN = "#00ee00", BLUE = "#0000ff", BLACK = "#000000";

    const label = (text: string, x: number, y: number) => ({
      type: "text", x, y,
      style: { text, fill: "#000", font: '19px "Liberation Sans"', textAlign: "right", align: "right", textVerticalAlign: "middle", verticalAlign: "middle" },
    });

    chart.setOption({
      animation: false,
      backgroundColor: "#fff",
      grid: grids,
      xAxis: [...A.xs, ...B.xs, ...C.xs, ...D.xs],
      yAxis: [...A.ys, ...B.ys, ...C.ys, ...D.ys],
      series: [
        line(0, aBlack, BLACK, 2),
        line(0, aRed, RED, 1.3),
        line(0, aGreen, GREEN, 1.3),
        line(0, aBlue, BLUE, 1.5),
        line(1, bRed, RED, 1),
        line(1, bGreen, GREEN, 1),
        line(1, bBlue, BLUE, 1.2),
        line(1, bBlack, BLACK, 2.5),
        line(2, cBlack, BLACK, 1.8),
        line(2, cBlue, BLUE, 1),
        line(3, dBlack, BLACK, 1.3),
        line(3, dBlue, BLUE, 1.1),
      ],
      graphic: [
        label("(a)", 394, 379),
        label("(b)", 722, 373),
        label("(c)", 388, 716),
        label("(d)", 720, 716),
      ],
    });
    return () => chart.dispose();
  }, []);
  return <div ref={ref} style={{ position: "absolute", left: 0, top: 0, width: 830, height: 1111 }} />;
}
